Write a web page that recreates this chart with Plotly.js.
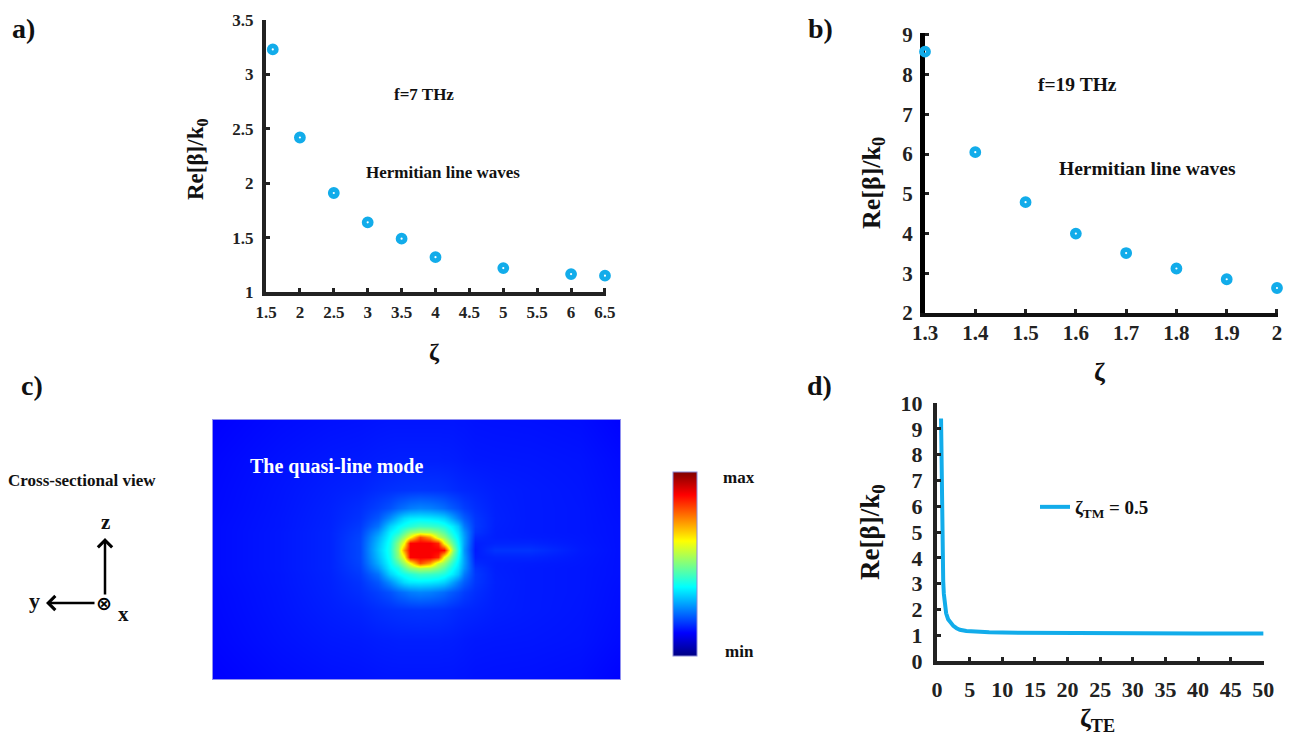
<!DOCTYPE html>
<html>
<head>
<meta charset="utf-8">
<script src="https://cdn.plot.ly/plotly-3.0.1.min.js"></script>
<style>html,body{margin:0;padding:0;background:#fff;}#chart{width:1290px;height:736px;}</style>
</head>
<body>
<div id="chart"></div>
<script>
// ---------- Panel a: f = 7 THz ----------
const zetaA = [1.6, 2.0, 2.5, 3.0, 3.5, 4.0, 5.0, 6.0, 6.5];
const betaA = [3.23, 2.42, 1.91, 1.64, 1.49, 1.32, 1.22, 1.165, 1.15];
const tickA_x = [1.5, 2, 2.5, 3, 3.5, 4, 4.5, 5, 5.5, 6, 6.5];
const tickA_y = [1, 1.5, 2, 2.5, 3, 3.5];

// ---------- Panel b: f = 19 THz ----------
const zetaB = [1.3, 1.4, 1.5, 1.6, 1.7, 1.8, 1.9, 2.0];
const betaB = [8.58, 6.05, 4.79, 4.0, 3.51, 3.12, 2.85, 2.63];
const tickB_x = [1.3, 1.4, 1.5, 1.6, 1.7, 1.8, 1.9, 2];
const tickB_y = [2, 3, 4, 5, 6, 7, 8, 9];

// ---------- Panel d: zeta_TM = 0.5 ----------
const zetaTE = [0.62, 0.66, 0.7, 0.75, 0.8, 0.87, 0.95, 1.05, 1.2, 1.4, 1.7, 2.0, 2.5, 3.0, 3.5, 4.5, 6, 8, 10, 15, 20, 30, 40, 50];
const betaD  = [9.4, 8.0, 6.6, 5.4, 4.5, 3.7, 3.1, 2.6, 2.1, 1.85, 1.62, 1.5, 1.36, 1.27, 1.21, 1.16, 1.13, 1.11, 1.1, 1.09, 1.08, 1.08, 1.07, 1.07];
const tickD_x = [0, 5, 10, 15, 20, 25, 30, 35, 40, 45, 50];
const tickD_y = [0, 1, 2, 3, 4, 5, 6, 7, 8, 9, 10];

// ---------- Panel c: field magnitude (normalised) ----------
const fieldX = [0, 67, 117, 147, 165, 177, 185, 191, 197, 207, 217, 225, 231, 235, 240, 245, 251, 262, 282, 317, 367, 407];
const fieldY = [0, 39, 69, 87, 97, 105, 111, 116, 122, 129, 136, 142, 147, 153, 161, 171, 189, 219, 259];
const rowD0   = [0.135,0.147,0.16,0.195,0.32,0.40,0.53,0.73,0.88,0.88,0.88,0.88,0.87,0.70,0.52,0.40,0.27,0.15,0.175,0.175,0.15,0.14];
const rowD7   = [0.135,0.147,0.16,0.195,0.31,0.393,0.51,0.62,0.876,0.88,0.88,0.84,0.62,0.55,0.46,0.38,0.28,0.155,0.16,0.16,0.148,0.14];
const rowD13  = [0.135,0.147,0.16,0.192,0.295,0.378,0.455,0.53,0.62,0.80,0.72,0.57,0.52,0.47,0.41,0.36,0.28,0.165,0.155,0.152,0.147,0.14];
const rowD18  = [0.135,0.147,0.16,0.188,0.272,0.363,0.40,0.46,0.515,0.55,0.54,0.50,0.46,0.42,0.38,0.345,0.27,0.175,0.155,0.15,0.146,0.14];
const rowD24  = [0.135,0.146,0.159,0.182,0.238,0.33,0.37,0.39,0.41,0.435,0.43,0.42,0.40,0.38,0.355,0.32,0.245,0.18,0.156,0.15,0.146,0.14];
const rowD32  = [0.134,0.146,0.158,0.175,0.21,0.265,0.31,0.34,0.355,0.36,0.355,0.345,0.33,0.31,0.28,0.25,0.215,0.178,0.157,0.15,0.146,0.139];
const rowD42  = [0.133,0.145,0.157,0.17,0.188,0.205,0.225,0.235,0.247,0.255,0.25,0.24,0.23,0.22,0.21,0.2,0.185,0.17,0.156,0.15,0.146,0.138];
const rowD60  = [0.132,0.144,0.154,0.16,0.168,0.172,0.174,0.175,0.176,0.177,0.176,0.175,0.173,0.171,0.168,0.165,0.163,0.16,0.154,0.15,0.145,0.137];
const rowD90  = [0.13,0.141,0.148,0.15,0.153,0.154,0.155,0.155,0.155,0.155,0.155,0.155,0.154,0.154,0.153,0.152,0.15,0.148,0.147,0.146,0.143,0.134];
const rowD130 = [0.125,0.135,0.14,0.142,0.144,0.145,0.145,0.145,0.145,0.145,0.145,0.145,0.145,0.145,0.145,0.144,0.144,0.142,0.141,0.14,0.137,0.127];
const fieldZ = [rowD130, rowD90, rowD60, rowD42, rowD32, rowD24, rowD18, rowD13, rowD7, rowD0,
                rowD7, rowD13, rowD18, rowD24, rowD32, rowD42, rowD60, rowD90, rowD130];

// ---------- helpers for page placement ----------
const W = 1290, H = 736;
const px = v => v / W;
const py = v => 1 - v / H;
const SERIF = 'Liberation Serif, Times New Roman, serif';
const BLUE = '#12acea';
const jet = [[0,'rgb(0,0,131)'],[0.125,'rgb(0,0,255)'],[0.375,'rgb(0,255,255)'],[0.625,'rgb(255,255,0)'],[0.875,'rgb(255,0,0)'],[1,'rgb(128,0,0)']];

const traces = [
  {type:'scatter', x: zetaA, y: betaA, xaxis:'x', yaxis:'y', mode:'markers', cliponaxis:false, showlegend:false,
   marker:{symbol:'circle-open', size:7, color:BLUE, line:{width:4.8, color:BLUE}}},
  {type:'scatter', x: zetaB, y: betaB, xaxis:'x2', yaxis:'y2', mode:'markers', cliponaxis:false, showlegend:false,
   marker:{symbol:'circle-open', size:7, color:BLUE, line:{width:4.8, color:BLUE}}},
  {type:'heatmap', x: fieldX, y: fieldY, z: fieldZ, xaxis:'x3', yaxis:'y3', zsmooth:'best',
   colorscale: jet, zmin:0, zmax:1, showscale:true, hoverinfo:'skip',
   colorbar:{x:px(673), xanchor:'left', xpad:0, ypad:0, thickness:24, len:184, lenmode:'pixels',
             y:py(564), yanchor:'middle', outlinewidth:1, outlinecolor:'#8a8ad8', ticks:'', showticklabels:false}},
  {type:'scatter', x: zetaTE, y: betaD, xaxis:'x4', yaxis:'y4', mode:'lines', name:'ζ<sub>TM</sub> = 0.5',
   line:{color:BLUE, width:4}, cliponaxis:false, showlegend:true}
];

function axisStyle(extra){
  return Object.assign({showgrid:false, zeroline:false, showline:true, linecolor:'#222', linewidth:4,
    ticks:'inside', ticklen:4, tickwidth:3, tickcolor:'#222', fixedrange:true}, extra);
}

const ann = [];
function addText(text, x, y, size, opts){
  ann.push(Object.assign({text:text, x:px(x), y:py(y), xref:'paper', yref:'paper', showarrow:false,
    xanchor:'center', yanchor:'middle', font:{family:SERIF, size:size, color:'#111', weight:'bold'}}, opts||{}));
}
// panel letters
addText('a)', 23, 28, 28);
addText('b)', 820, 28, 28);
addText('c)', 32, 385, 28);
addText('d)', 819, 385, 28);
// panel a texts
addText('f=7 THz', 424, 94, 17);
addText('Hermitian line waves', 443, 172, 17);
addText('Re[β]/k<sub>0</sub>', 197, 160, 23, {textangle:-90});
addText('ζ', 434, 352, 24);
// panel b texts
addText('f=19 THz', 1077, 85, 19.5);
addText('Hermitian line waves', 1147, 168, 19.5);
addText('Re[β]/k<sub>0</sub>', 873, 183, 26, {textangle:-90});
addText('ζ', 1099, 372, 26);
// panel d texts
addText('Re[β]/k<sub>0</sub>', 872, 532, 27, {textangle:-90});
addText('ζ<sub>TE</sub>', 1097, 720, 26);
// panel c texts
addText('The quasi-line mode', 337, 466, 20, {font:{family:SERIF, size:20, color:'#ffffff', weight:'bold'}});
addText('max', 739, 477, 17);
addText('min', 739, 651, 17);
addText('Cross-sectional view', 82, 480, 17);
addText('z', 105, 522, 21);
addText('y', 34, 600, 22);
addText('x', 123, 614, 21);
addText('⊗', 104, 603, 19, {font:{family:'DejaVu Sans', size:19, color:'#000', weight:'bold'}});
// axis arrows of the cross-section sketch
ann.push({x:px(105), y:py(538), xref:'paper', yref:'paper', ax:0, ay:58, text:'', showarrow:true,
  arrowhead:4, arrowsize:1.1, arrowwidth:2.5, arrowcolor:'#000'});
ann.push({x:px(46), y:py(603), xref:'paper', yref:'paper', ax:50, ay:0, text:'', showarrow:true,
  arrowhead:4, arrowsize:1.1, arrowwidth:2.5, arrowcolor:'#000'});

const tf = (s) => ({family:SERIF, size:s, color:'#222', weight:'bold'});

const layout = {
  width:W, height:H, margin:{l:0, r:0, t:0, b:0}, paper_bgcolor:'#fff', plot_bgcolor:'rgba(0,0,0,0)',
  showlegend:true,
  legend:{x:px(1035), y:py(507), xanchor:'left', yanchor:'middle', bgcolor:'rgba(0,0,0,0)',
          font:{family:SERIF, size:19, color:'#111', weight:'bold'}},
  xaxis: axisStyle({domain:[px(266), px(606)], range:[1.5, 6.515], anchor:'y',
          tickmode:'array', tickvals:tickA_x, ticktext:tickA_x.map(String), tickfont:tf(17), ticklabelstandoff:2}),
  yaxis: axisStyle({domain:[py(292), py(20)], range:[1, 3.5], anchor:'x',
          tickmode:'array', tickvals:tickA_y, ticktext:tickA_y.map(String), tickfont:tf(17), ticklabelstandoff:5}),
  xaxis2: axisStyle({domain:[px(925), px(1278)], range:[1.3, 2.002], anchor:'y2', linecolor:'#111',
          tickmode:'array', tickvals:tickB_x, ticktext:tickB_x.map(String), tickfont:tf(21), ticklabelstandoff:-2}),
  yaxis2: axisStyle({domain:[py(313), py(33)], range:[2, 9.05], anchor:'x2', linecolor:'#000', linewidth:5,
          layer:'below traces',
          tickmode:'array', tickvals:tickB_y, ticktext:tickB_y.map(String), tickfont:tf(21), ticklabelstandoff:3}),
  xaxis3: {domain:[px(213), px(620)], range:[0, 407], anchor:'y3', showgrid:false, zeroline:false,
          showticklabels:false, ticks:'', showline:true, mirror:true, linecolor:'#9090f0', linewidth:1, fixedrange:true},
  yaxis3: {domain:[py(679), py(420)], range:[0, 259], anchor:'x3', showgrid:false, zeroline:false,
          showticklabels:false, ticks:'', showline:true, mirror:true, linecolor:'#9090f0', linewidth:1, fixedrange:true},
  xaxis4: axisStyle({domain:[px(937), px(1264)], range:[0, 50.1], anchor:'y4',
          tickmode:'array', tickvals:tickD_x, ticktext:tickD_x.map(String), tickfont:tf(22), ticklabelstandoff:6}),
  yaxis4: axisStyle({domain:[py(661), py(403)], range:[0, 10], anchor:'x4',
          tickmode:'array', tickvals:tickD_y, ticktext:tickD_y.map(String), tickfont:tf(22), ticklabelstandoff:6}),
  annotations: ann
};

Plotly.newPlot('chart', traces, layout, {displayModeBar:false, staticPlot:true});
</script>
</body>
</html>
